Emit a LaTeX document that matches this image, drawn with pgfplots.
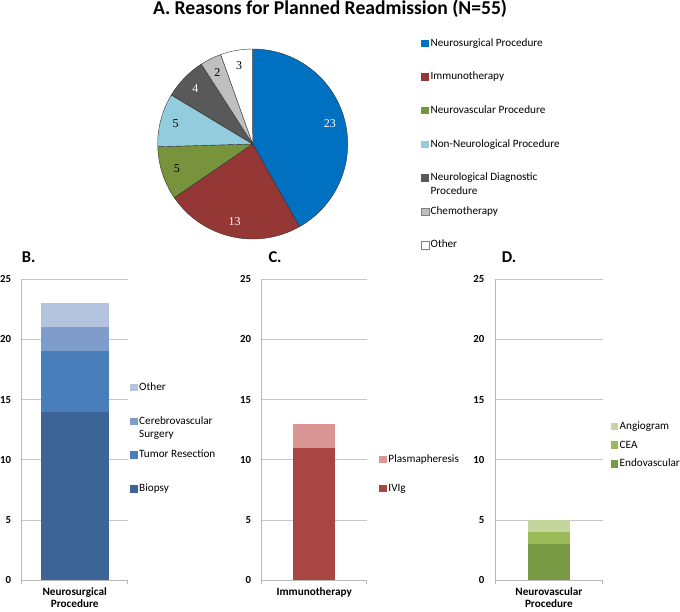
\documentclass[border=0pt]{standalone}
\usepackage{pgfplots}
\pgfplotsset{compat=1.18}
\usepackage{fontspec}
\setmainfont{Carlito}
\newfontfamily\timesfont{Liberation Serif}
\newcommand\piefont{\timesfont\fontsize{12}{14}\selectfont}

\definecolor{pNeuro}{HTML}{0070C0}
\definecolor{pImmuno}{HTML}{953735}
\definecolor{pNeurovasc}{HTML}{77933C}
\definecolor{pNonNeuro}{HTML}{93CDDD}
\definecolor{pDiag}{HTML}{595959}
\definecolor{pChemo}{HTML}{BFBFBF}
\definecolor{bBiopsy}{HTML}{3C6496}
\definecolor{bTumor}{HTML}{4A7EBB}
\definecolor{bCereb}{HTML}{7E9DCB}
\definecolor{bOther}{HTML}{B4C3DE}
\definecolor{cIVIg}{HTML}{A94543}
\definecolor{cPlasma}{HTML}{D99694}
\definecolor{dEndo}{HTML}{789A45}
\definecolor{dCEA}{HTML}{9BBB59}
\definecolor{dAngio}{HTML}{C3D69B}

\pgfplotsset{
  barpanel/.style={
    scale only axis, height=300.7pt,
    ymin=0, ymax=25, ytick={0,5,10,15,20,25},
    xmin=-0.5, xmax=0.5, enlargelimits=false,
    ybar stacked,
    axis x line*=bottom, axis y line*=left,
    axis line style={draw=gray!55, line width=0.6pt},
    ymajorgrids, major grid style={draw=gray!45, line width=0.6pt},
    ytick style={draw=none},
    xtick={-0.5,0.5}, xticklabels={},
    xtick style={draw=gray!55, line width=0.6pt},
    tick align=outside, major tick length=4pt,
    /pgf/number format/assume math mode=true,
    yticklabel style={font=\bfseries\fontsize{10.8}{12}\selectfont, inner sep=0pt, xshift=-6.5pt},
    xlabel style={at={(axis description cs:0.5,0)}, anchor=north, yshift=-7.5pt, align=center, inner sep=0pt, font=\bfseries\fontsize{11.2}{12.3}\selectfont},
    title style={at={(axis description cs:0,1)}, anchor=base west, inner sep=0pt, yshift=11.3pt, font=\bfseries\fontsize{16.5}{18}\selectfont},
    legend image code/.code={\path[##1] (0pt,-3.7pt) rectangle (7.4pt,3.7pt);},
    reverse legend,
    legend cell align=left,
    legend style={draw=none, fill=none, inner sep=0pt, anchor=west, font=\fontsize{11.2}{13.3}\selectfont, column sep=0pt, nodes={inner ysep=0pt, inner xsep=1.6pt, text height=8pt, text depth=2.3pt}},
  },
}

\begin{document}
\begin{tikzpicture}
\path[use as bounding box] (0pt,0pt) rectangle (680pt,611pt);

\node[font=\bfseries\fontsize{19.6}{22}\selectfont, anchor=base] at (330pt,596.6pt) {A. Reasons for Planned Readmission (N=55)};

% ---------- A: pie ----------
\begin{axis}[
  at={(252.7pt,467pt)}, anchor=center,
  scale only axis, width=190pt, height=190pt,
  xmin=-1, xmax=1, ymin=-1, ymax=1, hide axis, clip=false,
  legend image code/.code={\path[#1] (0pt,-3.7pt) rectangle (7.4pt,3.7pt);},
  legend cell align=left,
  legend style={draw=none, fill=none, inner sep=0pt, at={(1.3858,0.4984)}, anchor=west,
    font=\fontsize{11.2}{13.3}\selectfont, column sep=0pt, row sep=23.3pt,
    nodes={inner ysep=0pt, inner xsep=1.6pt, text height=8pt, text depth=2.3pt}},
]
\addlegendimage{fill=pNeuro, draw=none}
\addlegendentry{Neurosurgical Procedure}
\addlegendimage{fill=pImmuno, draw=none}
\addlegendentry{Immunotherapy}
\addlegendimage{fill=pNeurovasc, draw=none}
\addlegendentry{Neurovascular Procedure}
\addlegendimage{fill=pNonNeuro, draw=none}
\addlegendentry{Non-Neurological Procedure}
\addlegendimage{fill=pDiag, draw=none}
\addlegendentry{\begin{tabular}[t]{@{}l@{}}Neurological Diagnostic\\Procedure\end{tabular}}
\addlegendimage{fill=pChemo, draw=gray, line width=0.4pt}
\addlegendentry{Chemotherapy}
\addlegendimage{fill=white, draw=gray, line width=0.4pt}
\addlegendentry{Other}
\def\cumangle{90}
\foreach \v/\c/\tc in {23/pNeuro/white,13/pImmuno/white,5/pNeurovasc/black,5/pNonNeuro/black,4/pDiag/white,2/pChemo/black,3/white/black}{
  \pgfmathsetmacro\endangle{\cumangle-\v/55*360}
  \pgfmathsetmacro\midangle{(\cumangle+\endangle)/2}
  \edef\temp{\noexpand\filldraw[fill=\c, draw=black!80, line width=0.4pt] (axis cs:0,0) -- (axis cs:{cos(\cumangle)},{sin(\cumangle)}) arc[start angle=\cumangle, end angle=\endangle, radius=1] -- cycle;
    \noexpand\node[text=\tc, font=\noexpand\piefont] at (axis cs:{0.84*cos(\midangle)},{0.84*sin(\midangle)}) {\v};}
  \temp
  \global\let\cumangle\endangle
}
\end{axis}

% ---------- B ----------
\begin{axis}[barpanel, at={(21.7pt,31pt)}, anchor=south west, width=106pt, bar width=68.3pt,
  title={B.}, title style={xshift=0pt},
  xlabel={Neurosurgical\\Procedure},
  legend style={at={(1.0217,0.4716)}, row sep=23.6pt}]
\addplot[fill=bBiopsy, draw=none] coordinates {(0,14)};
\addlegendentry{Biopsy}
\addplot[fill=bTumor, draw=none] coordinates {(0,5)};
\addlegendentry{Tumor Resection}
\addplot[fill=bCereb, draw=none] coordinates {(0,2)};
\addlegendentry{\begin{tabular}[t]{@{}l@{}}Cerebrovascular\\Surgery\end{tabular}}
\addplot[fill=bOther, draw=none] coordinates {(0,2)};
\addlegendentry{Other}
\end{axis}

% ---------- C ----------
\begin{axis}[barpanel, at={(261.7pt,31pt)}, anchor=south west, width=105pt, bar width=41.7pt,
  title={C.}, title style={xshift=6.6pt},
  xlabel={Immunotherapy},
  legend style={at={(1.12,0.3532)}, row sep=18.7pt}]
\addplot[fill=cIVIg, draw=none] coordinates {(0,11)};
\addlegendentry{IVIg}
\addplot[fill=cPlasma, draw=none] coordinates {(0,2)};
\addlegendentry{Plasmapheresis}
\end{axis}

% ---------- D ----------
\begin{axis}[barpanel, at={(495pt,31pt)}, anchor=south west, width=107.7pt, bar width=42.3pt,
  title={D.}, title style={xshift=6.7pt},
  xlabel={Neurovascular\\Procedure},
  legend style={at={(1.0725,0.4483)}, row sep=8.35pt}]
\addplot[fill=dEndo, draw=none] coordinates {(0,3)};
\addlegendentry{Endovascular}
\addplot[fill=dCEA, draw=none] coordinates {(0,1)};
\addlegendentry{CEA}
\addplot[fill=dAngio, draw=none] coordinates {(0,1)};
\addlegendentry{Angiogram}
\end{axis}
\end{tikzpicture}
\end{document}
